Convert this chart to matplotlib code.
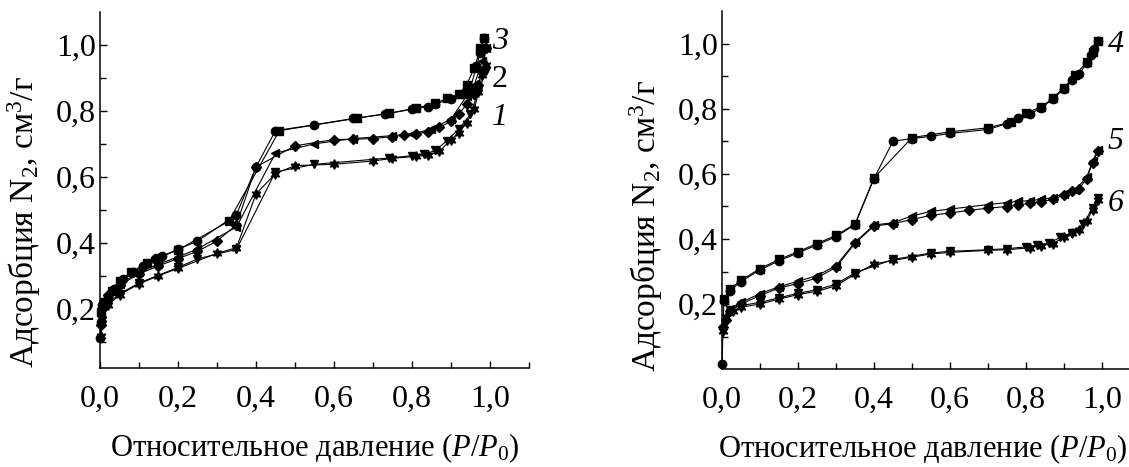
import numpy as np
import matplotlib
matplotlib.use("Agg")
import matplotlib.pyplot as plt

plt.rcParams['font.family'] = ['Liberation Serif', 'DejaVu Serif']
plt.rcParams['mathtext.fontset'] = 'custom'
plt.rcParams['mathtext.rm'] = 'Liberation Serif'
plt.rcParams['mathtext.it'] = 'Liberation Serif:italic'

# ---- образец 1-3 (левый график): адсорбция / десорбция ----
x1_ads = [0.002, 0.006, 0.02, 0.05, 0.1, 0.15, 0.2, 0.3, 0.35, 0.4, 0.45, 0.5, 0.6, 0.7, 0.75,
          0.81, 0.84, 0.87, 0.9, 0.92, 0.94, 0.96, 0.97, 0.98, 0.99]
y1_ads = [0.118, 0.17, 0.21, 0.242, 0.275, 0.3, 0.322, 0.368, 0.385, 0.548, 0.61, 0.634, 0.638,
          0.648, 0.656, 0.662, 0.665, 0.677, 0.713, 0.733, 0.764, 0.805, 0.856, 0.908, 0.94]
x1_des = [0.99, 0.97, 0.95, 0.92, 0.89, 0.86, 0.83, 0.8, 0.74, 0.55, 0.45, 0.35, 0.25, 0.2,
          0.1, 0.05, 0.02]
y1_des = [0.92, 0.86, 0.79, 0.745, 0.71, 0.68, 0.668, 0.664, 0.657, 0.638, 0.615, 0.38, 0.351,
          0.325, 0.278, 0.245, 0.215]

x2_ads = [0.002, 0.006, 0.02, 0.05, 0.1, 0.15, 0.2, 0.25, 0.3, 0.35, 0.4, 0.5, 0.6, 0.65, 0.7,
          0.75, 0.78, 0.81, 0.84, 0.87, 0.9, 0.92, 0.94, 0.96, 0.97, 0.98, 0.99]
y2_ads = [0.15, 0.2, 0.24, 0.272, 0.305, 0.33, 0.352, 0.374, 0.405, 0.455, 0.63, 0.694, 0.713,
          0.714, 0.716, 0.722, 0.726, 0.73, 0.737, 0.75, 0.768, 0.79, 0.82, 0.85, 0.88, 0.92, 0.99]
x2_des = [0.99, 0.98, 0.96, 0.94, 0.9, 0.85, 0.8, 0.75, 0.65, 0.55, 0.45, 0.35, 0.25, 0.2,
          0.15, 0.1, 0.05, 0.02]
y2_des = [0.99, 0.95, 0.88, 0.845, 0.775, 0.745, 0.73, 0.725, 0.716, 0.70, 0.672, 0.448, 0.381,
          0.357, 0.335, 0.31, 0.275, 0.245]

x3_ads = [0.0, 0.003, 0.006, 0.02, 0.035, 0.06, 0.085, 0.11, 0.14, 0.16, 0.2, 0.25, 0.35, 0.4,
          0.45, 0.55, 0.65, 0.73, 0.8, 0.84, 0.86, 0.9, 0.93, 0.95, 0.965, 0.975, 0.985]
y3_ads = [0.11, 0.16, 0.21, 0.235, 0.26, 0.29, 0.31, 0.33, 0.35, 0.36, 0.38, 0.405, 0.485, 0.63,
          0.74, 0.758, 0.777, 0.79, 0.805, 0.813, 0.821, 0.836, 0.85, 0.87, 0.935, 0.975, 1.02]
x3_des = [0.985, 0.975, 0.96, 0.94, 0.92, 0.89, 0.86, 0.81, 0.74, 0.66, 0.46, 0.33, 0.2, 0.15,
          0.12, 0.08, 0.05, 0.03, 0.01, 0.003]
y3_des = [1.02, 0.99, 0.93, 0.88, 0.85, 0.838, 0.823, 0.808, 0.793, 0.778, 0.74, 0.465, 0.378,
          0.355, 0.34, 0.31, 0.285, 0.255, 0.22, 0.19]

# ---- образец 4-6 (правый график) ----
x4_ads = [0.0, 0.005, 0.02, 0.05, 0.1, 0.15, 0.2, 0.25, 0.3, 0.35, 0.4, 0.45, 0.5, 0.55, 0.6,
          0.7, 0.75, 0.78, 0.81, 0.84, 0.87, 0.9, 0.92, 0.94, 0.96, 0.97, 0.98, 0.99]
y4_ads = [0.015, 0.21, 0.241, 0.269, 0.305, 0.333, 0.357, 0.382, 0.407, 0.444, 0.586, 0.701,
          0.709, 0.716, 0.725, 0.737, 0.755, 0.771, 0.785, 0.803, 0.83, 0.862, 0.888, 0.907,
          0.942, 0.965, 0.985, 1.008]
x4_des = [0.99, 0.975, 0.96, 0.93, 0.9, 0.87, 0.84, 0.8, 0.76, 0.7, 0.6, 0.5, 0.4, 0.35, 0.3,
          0.25, 0.2, 0.15, 0.1, 0.05, 0.02, 0.005]
y4_des = [1.01, 0.975, 0.945, 0.905, 0.866, 0.833, 0.806, 0.788, 0.76, 0.742, 0.73, 0.712,
          0.588, 0.446, 0.411, 0.386, 0.361, 0.337, 0.309, 0.273, 0.245, 0.215]

x5_ads = [0.003, 0.01, 0.02, 0.05, 0.1, 0.15, 0.2, 0.25, 0.3, 0.35, 0.4, 0.45, 0.5, 0.55, 0.6,
          0.65, 0.7, 0.75, 0.78, 0.81, 0.84, 0.87, 0.9, 0.92, 0.94, 0.96, 0.975, 0.99]
y5_ads = [0.13, 0.15, 0.18, 0.2, 0.226, 0.249, 0.263, 0.28, 0.313, 0.387, 0.44, 0.447, 0.46,
          0.473, 0.48, 0.488, 0.495, 0.5, 0.505, 0.51, 0.515, 0.522, 0.535, 0.548, 0.555, 0.586,
          0.634, 0.671]
x5_des = [0.99, 0.975, 0.96, 0.93, 0.9, 0.87, 0.84, 0.81, 0.78, 0.75, 0.7, 0.6, 0.55, 0.5,
          0.45, 0.4, 0.35, 0.3, 0.25, 0.2, 0.15, 0.1, 0.05, 0.02]
y5_des = [0.675, 0.64, 0.59, 0.552, 0.54, 0.527, 0.522, 0.518, 0.516, 0.512, 0.506, 0.492,
          0.485, 0.471, 0.45, 0.443, 0.39, 0.318, 0.287, 0.27, 0.253, 0.232, 0.205, 0.185]

x6_ads = [0.003, 0.01, 0.03, 0.05, 0.1, 0.15, 0.2, 0.25, 0.3, 0.35, 0.4, 0.45, 0.5, 0.55, 0.6,
          0.7, 0.75, 0.81, 0.84, 0.87, 0.9, 0.92, 0.94, 0.96, 0.975, 0.99]
y6_ads = [0.117, 0.159, 0.179, 0.19, 0.2, 0.215, 0.229, 0.239, 0.256, 0.292, 0.323, 0.334,
          0.344, 0.354, 0.359, 0.365, 0.367, 0.373, 0.38, 0.385, 0.406, 0.418, 0.428, 0.455,
          0.49, 0.521]
x6_des = [0.99, 0.975, 0.95, 0.92, 0.89, 0.86, 0.83, 0.8, 0.75, 0.7, 0.6, 0.55, 0.45, 0.35,
          0.3, 0.25, 0.2, 0.15, 0.1, 0.05, 0.02]
y6_des = [0.525, 0.495, 0.445, 0.42, 0.405, 0.387, 0.381, 0.376, 0.37, 0.367, 0.362, 0.357,
          0.337, 0.296, 0.261, 0.244, 0.233, 0.219, 0.205, 0.195, 0.183]

xticks = [0.0, 0.2, 0.4, 0.6, 0.8, 1.0]
yticks = [0.2, 0.4, 0.6, 0.8, 1.0]

STAR6 = (6, 1, 0)


def fmt(v):
    return f"{v:.1f}".replace('.', ',')


def setup_axes(ax, ylim, xlabel_x, ylabel_y):
    ax.set_xlim(0, 1.1)
    ax.set_ylim(*ylim)
    for s in ['top', 'right']:
        ax.spines[s].set_visible(False)
    for s in ['left', 'bottom']:
        ax.spines[s].set_linewidth(1.1)
    ax.set_xticks(xticks)
    ax.set_xticklabels([fmt(v) for v in xticks])
    ax.set_xticks(np.arange(0.1, 1.15, 0.2), minor=True)
    ax.set_yticks(yticks)
    ax.set_yticklabels([fmt(v) for v in yticks])
    ax.set_yticks(np.arange(0.1, 1.0, 0.2), minor=True)
    ax.tick_params(which='both', direction='in', width=1.0, labelsize=23)
    ax.tick_params(which='major', length=5)
    ax.tick_params(which='minor', length=4)
    ax.tick_params(axis='x', pad=12)
    ax.tick_params(axis='y', pad=3)
    ax.set_xlabel(r'Относительное давление ($P/P_0$)', fontsize=22, labelpad=13)
    ax.xaxis.label.set_x(xlabel_x)
    ax.set_ylabel(r'Адсорбция N$_2$, см$^3$/г', fontsize=24, labelpad=9)
    ax.yaxis.label.set_y(ylabel_y)


def branch(ax, x, y, marker, ms=6):
    ax.plot(x, y, color='black', lw=0.8, marker=marker, ms=ms,
            markerfacecolor='black', markeredgecolor='black', clip_on=False)


fig = plt.figure(figsize=(11.29, 4.67), dpi=100)

ax1 = fig.add_axes([100 / 1129, 1 - 368 / 467, 429 / 1129, 356 / 467])
setup_axes(ax1, (0.02, 1.1), 0.5, 0.41)
branch(ax1, x1_ads, y1_ads, STAR6, 7)
branch(ax1, x1_des, y1_des, 'v')
branch(ax1, x2_ads, y2_ads, 'D', 5.5)
branch(ax1, x2_des, y2_des, '<')
branch(ax1, x3_ads, y3_ads, 'o')
branch(ax1, x3_des, y3_des, 's', 5.5)
ax1.text(1.005, 1.01, '3', fontsize=23, style='italic', ha='left', va='center')
ax1.text(1.005, 0.895, '2', fontsize=23, ha='left', va='center')
ax1.text(1.005, 0.78, '1', fontsize=23, style='italic', ha='left', va='center')

ax2 = fig.add_axes([722 / 1129, 1 - 369 / 467, 418 / 1129, 357.5 / 467])
setup_axes(ax2, (0.0, 1.1), 0.48, 0.40)
branch(ax2, x4_ads, y4_ads, 'o')
branch(ax2, x4_des, y4_des, 's', 5.5)
branch(ax2, x5_ads, y5_ads, 'D', 5.5)
branch(ax2, x5_des, y5_des, '<')
branch(ax2, x6_ads, y6_ads, STAR6, 7)
branch(ax2, x6_des, y6_des, 'v')
ax2.text(1.015, 1.0, '4', fontsize=23, style='italic', ha='left', va='center')
ax2.text(1.015, 0.70, '5', fontsize=23, style='italic', ha='left', va='center')
ax2.text(1.015, 0.51, '6', fontsize=23, style='italic', ha='left', va='center')

fig.savefig('out.png', dpi=100)
